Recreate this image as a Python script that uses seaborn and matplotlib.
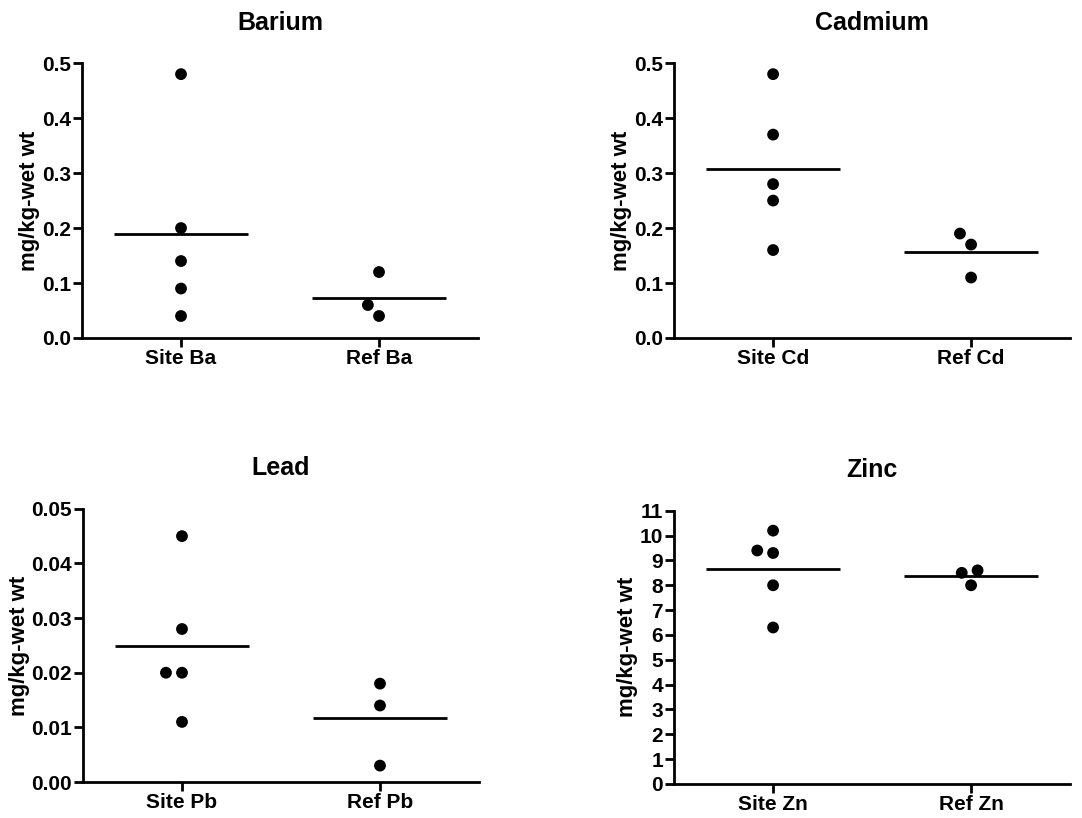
import matplotlib
matplotlib.use("Agg")
import matplotlib.pyplot as plt
import seaborn as sns
import pandas as pd
from matplotlib.ticker import MultipleLocator, FormatStrFormatter

# Tema do seaborn e fonte tipo Arial em negrito
sns.set_theme(context="notebook", style="ticks")
plt.rcParams['font.family'] = ['Liberation Sans', 'DejaVu Sans']
plt.rcParams['font.weight'] = 'bold'
plt.rcParams['text.color'] = 'black'
plt.rcParams['axes.labelcolor'] = 'black'

# Dados (mg/kg peso úmido)
titulos = ["Barium", "Cadmium", "Lead", "Zinc"]
simbolos = ["Ba", "Cd", "Pb", "Zn"]

site_ba = [0.48, 0.20, 0.14, 0.09, 0.04]
ref_ba = [0.12, 0.06, 0.04]
site_cd = [0.48, 0.37, 0.28, 0.25, 0.16]
ref_cd = [0.19, 0.17, 0.11]
site_pb = [0.045, 0.028, 0.020, 0.020, 0.011]
ref_pb = [0.018, 0.014, 0.003]
site_zn = [10.2, 9.4, 9.3, 8.0, 6.3]
ref_zn = [8.6, 8.5, 8.0]

valores_site = [site_ba, site_cd, site_pb, site_zn]
valores_ref = [ref_ba, ref_cd, ref_pb, ref_zn]

y_max = [0.5, 0.5, 0.05, 11]
y_passo = [0.1, 0.1, 0.01, 1]
y_formato = ["%.1f", "%.1f", "%.2f", "%d"]

# Posição de cada painel na figura (left, bottom, width, height)
posicoes = [
    [0.0758, 0.5868, 0.366, 0.336],
    [0.6230, 0.5868, 0.366, 0.336],
    [0.0767, 0.0440, 0.366, 0.334],
    [0.6230, 0.0416, 0.366, 0.334],
]

fig = plt.figure(figsize=(10.82, 8.18), dpi=100)

for i in range(4):
    ax = fig.add_axes(posicoes[i])
    ordem = ["Site " + simbolos[i], "Ref " + simbolos[i]]
    df = pd.DataFrame({
        "grupo": [ordem[0]] * len(valores_site[i]) + [ordem[1]] * len(valores_ref[i]),
        "valor": valores_site[i] + valores_ref[i],
    })

    # Pontos individuais (swarm), borda invisível só para afastar os pontos
    sns.swarmplot(data=df, x="grupo", y="valor", order=ordem, color="black",
                  size=8.5, linewidth=2.5, edgecolor="none", ax=ax)

    # Linha da média
    sns.pointplot(data=df, x="grupo", y="valor", order=ordem, estimator="mean",
                  errorbar=None, color="black", markers="_", linestyle="none",
                  markersize=96, markeredgewidth=2, ax=ax)

    ax.set_xlim(-0.5, 1.5)
    ax.set_ylim(0, y_max[i])
    ax.yaxis.set_major_locator(MultipleLocator(y_passo[i]))
    ax.yaxis.set_major_formatter(FormatStrFormatter(y_formato[i]))

    sns.despine(ax=ax)
    for lado in ["left", "bottom"]:
        ax.spines[lado].set_linewidth(2)
        ax.spines[lado].set_color("black")
    ax.tick_params(direction="out", length=6.5, width=2, labelsize=15,
                   pad=1.5, colors="black")
    for rotulo in ax.get_xticklabels() + ax.get_yticklabels():
        rotulo.set_fontweight("bold")

    ax.set_xlabel("")
    ax.set_ylabel("mg/kg-wet wt", fontsize=16, fontweight="bold", labelpad=1)
    ax.set_title(titulos[i], fontsize=18, fontweight="bold", pad=24)

fig.savefig("out.png", dpi=100)
